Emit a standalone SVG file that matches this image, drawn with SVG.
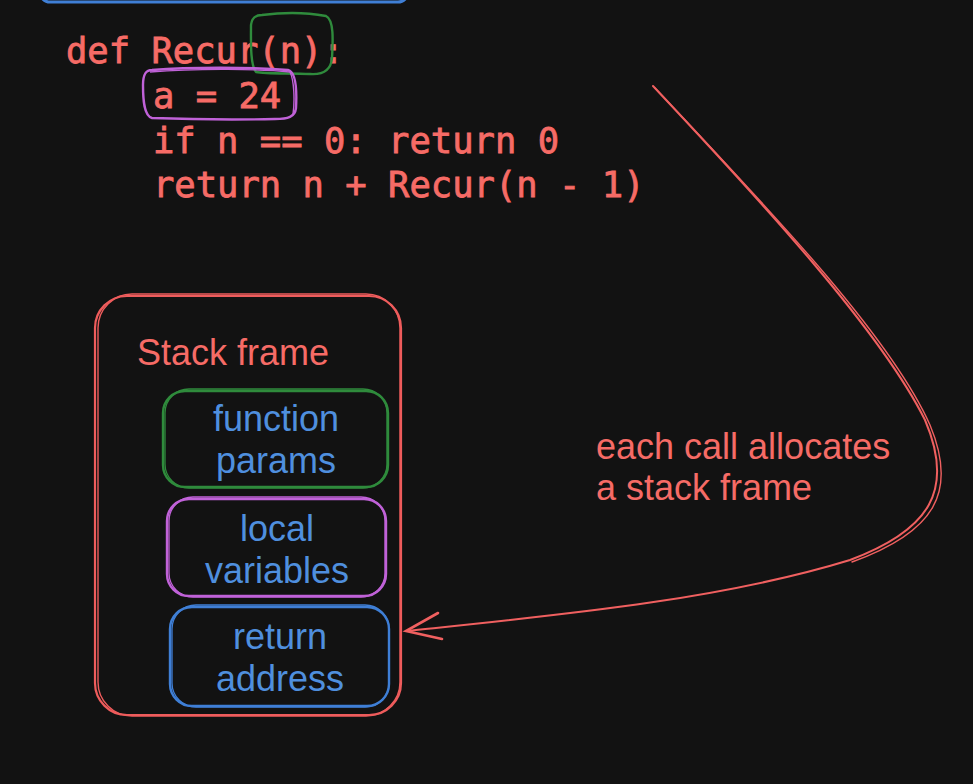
<svg xmlns="http://www.w3.org/2000/svg" width="973" height="784" viewBox="0 0 973 784">
<defs>
<style>
.bg{fill:#121212}
.code{font-family:"DejaVu Sans Mono","Liberation Mono",monospace;font-size:35.5px;fill:#f66b66;stroke:#f66b66;stroke-width:0.8}
.lbl{font-family:"Liberation Sans",Arial,sans-serif;font-size:36px;fill:#f66b66}
.in{font-family:"Liberation Sans",Arial,sans-serif;font-size:36px;fill:#4f8fde;text-anchor:middle}
.red{fill:none;stroke:#ee5c5c;stroke-width:2.2}
.grn{fill:none;stroke:#2f8b3c;stroke-width:2.4}
.pur{fill:none;stroke:#c062d8;stroke-width:2.4}
.blu{fill:none;stroke:#3f7fd6;stroke-width:2.4}
.arr{fill:none;stroke:#f06060;stroke-width:2;stroke-linecap:round}
</style>
</defs>
<rect class="bg" x="0" y="0" width="973" height="784"/>

<g id="top-box">
<rect class="blu" x="40" y="-40" width="368" height="42" rx="10" style="stroke-width:3"/>
</g>

<g id="code">
<text class="code" x="66" y="63">def Recur(n):</text>
<text class="code" x="153" y="108">a = 24</text>
<text class="code" x="153" y="153">if n == 0: return 0</text>
<text class="code" x="153" y="197">return n + Recur(n - 1)</text>
</g>

<g id="param-highlight">
<path class="grn" d="M262,15 C285,12 310,13 326,16 C334,20 333,40 332,58 C331,70 324,75 310,74 C290,73 266,74 256,72 C250,65 251,40 251,25 C252,17 256,15 262,15 Z"/>
</g>
<g id="local-highlight">
<path class="pur" d="M152,70 C190,67 250,67 288,70 C296,72 297,90 296,108 C295,117 288,119 275,119 C230,120 180,119 152,118 C144,116 143,100 143,85 C143,74 146,70 152,70 Z"/>
<path class="pur" d="M150,72 C200,68 260,69 290,72 C294,80 295,100 293,114" style="stroke-width:1.4"/>
</g>

<g id="stack-frame">
<rect class="red" x="95" y="296" width="306" height="419" rx="32"/>
<rect class="red" x="98" y="294" width="302" height="422" rx="34" style="stroke-width:1.4"/>
<text class="lbl" x="137" y="365">Stack frame</text>
</g>

<g id="function-params">
<rect class="grn" x="163" y="391" width="225" height="96" rx="22"/>
<rect class="grn" x="165" y="389" width="222" height="99" rx="24" style="stroke-width:1.3"/>
<text class="in" x="276" y="431">function</text>
<text class="in" x="276" y="473">params</text>
</g>

<g id="local-variables">
<rect class="pur" x="167" y="499" width="219" height="97" rx="22"/>
<rect class="pur" x="169" y="497" width="216" height="100" rx="24" style="stroke-width:1.3"/>
<text class="in" x="277" y="541">local</text>
<text class="in" x="277" y="583">variables</text>
</g>

<g id="return-address">
<rect class="blu" x="170" y="607" width="219" height="99" rx="22"/>
<rect class="blu" x="172" y="605" width="217" height="102" rx="24" style="stroke-width:1.3"/>
<text class="in" x="280" y="649">return</text>
<text class="in" x="280" y="691">address</text>
</g>

<g id="note">
<text class="lbl" x="596" y="459">each call allocates</text>
<text class="lbl" x="596" y="500">a stack frame</text>
</g>

<g id="connectors">
<path class="arr" d="M653,86 C760,200 880,330 925,420 C955,490 930,530 850,560 C720,600 560,615 407,631"/>
<path class="arr" d="M655,88 C765,205 890,335 930,425 C958,492 935,532 852,562" style="stroke-width:1.4"/>
<path class="arr" d="M438,613 L406,631 L442,639" style="stroke-width:2.6"/>
</g>
</svg>
